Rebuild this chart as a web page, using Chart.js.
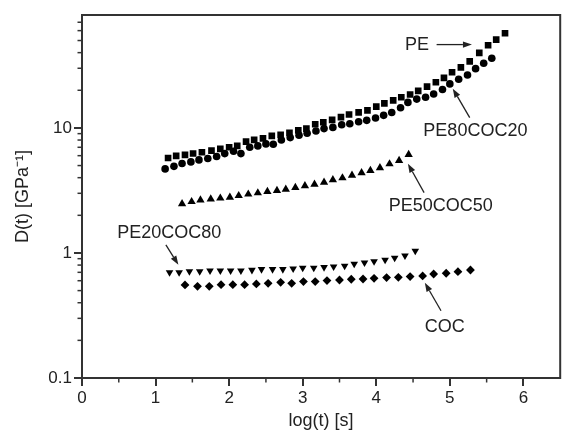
<!DOCTYPE html>
<html>
<head>
<meta charset="utf-8">
<script src="https://cdn.jsdelivr.net/npm/chart.js@4.4.1/dist/chart.umd.min.js"></script>
<style>
html,body{margin:0;padding:0;background:#fff;}
#wrap{width:565px;height:432px;position:relative;}
</style>
</head>
<body>
<div id="wrap"><canvas id="c" width="565" height="432"></canvas></div>
<script>
// ---- data ----
const peX = [1.17,1.28,1.40,1.51,1.63,1.76,1.88,2.00,2.11,2.23,2.34,2.46,2.58,2.70,2.82,2.94,3.05,3.17,3.28,3.40,3.52,3.63,3.76,3.88,4.00,4.11,4.23,4.34,4.46,4.57,4.69,4.81,4.92,5.03,5.15,5.27,5.40,5.52,5.63,5.75];
const peY = [5.75,5.97,6.08,6.24,6.39,6.59,6.79,7.00,7.18,7.78,8.02,8.26,8.63,8.79,9.12,9.57,9.88,10.7,11.1,11.6,12.2,12.8,13.3,13.8,14.8,15.7,16.6,17.6,18.5,19.8,21.4,23.2,25.1,27.9,30.5,34.1,39.8,45.8,50.9,57.2];

const pe80X = [1.13,1.25,1.36,1.48,1.59,1.71,1.83,1.94,2.06,2.16,2.28,2.39,2.50,2.60,2.71,2.83,2.95,3.06,3.18,3.29,3.41,3.53,3.64,3.76,3.87,3.99,4.10,4.21,4.33,4.43,4.55,4.67,4.78,4.90,5.00,5.12,5.24,5.35,5.46,5.57];
const pe80Y = [4.70,4.93,5.19,5.35,5.55,5.69,5.90,6.23,6.50,6.23,7.00,7.18,7.45,7.40,8.00,8.37,8.74,9.06,9.46,9.88,10.1,10.6,10.8,11.2,11.5,12.0,12.6,13.3,14.5,16.0,17.0,17.6,18.7,20.3,22.5,24.5,26.5,29.8,32.9,36.1];

const pe50X = [1.36,1.49,1.61,1.75,1.88,2.01,2.13,2.26,2.39,2.52,2.65,2.77,2.90,3.03,3.16,3.29,3.41,3.54,3.67,3.80,3.92,4.05,4.18,4.31,4.44];
const pe50Y = [2.47,2.57,2.65,2.70,2.74,2.79,2.87,2.95,3.02,3.10,3.15,3.23,3.33,3.44,3.54,3.67,3.84,3.98,4.18,4.37,4.56,4.79,5.15,5.48,6.12];

const pe20X = [1.19,1.32,1.46,1.60,1.74,1.88,2.02,2.16,2.31,2.44,2.59,2.73,2.87,3.00,3.15,3.29,3.42,3.57,3.70,3.84,3.97,4.12,4.25,4.39,4.53];
const pe20Y = [0.700,0.700,0.713,0.713,0.722,0.722,0.722,0.722,0.731,0.740,0.740,0.740,0.750,0.759,0.759,0.768,0.778,0.787,0.817,0.837,0.857,0.879,0.912,0.952,1.04];

const cocX = [1.40,1.57,1.73,1.89,2.05,2.21,2.37,2.53,2.70,2.85,3.01,3.17,3.33,3.50,3.66,3.82,3.97,4.14,4.30,4.46,4.63,4.78,4.95,5.11,5.28];
const cocY = [0.555,0.541,0.541,0.558,0.558,0.558,0.565,0.572,0.582,0.572,0.590,0.590,0.601,0.608,0.616,0.619,0.627,0.635,0.639,0.647,0.655,0.679,0.688,0.709,0.731];

const xMajorTicks = [0,1,2,3,4,5,6];
const xMinorTicks = [0.5,1.5,2.5,3.5,4.5,5.5];
const yMajorTicks = [0.1,1,10];
const yMinorTicks = [0.2,0.3,0.4,0.5,0.6,0.7,0.8,0.9,2,3,4,5,6,7,8,9,20,30,40,50,60,70];

const xTitle = 'log(t) [s]';
const yTitle = 'D(t) [GPa\u207B\u00B9]';

// annotation labels (data coordinates)
const labelText = ['PE','PE80COC20','PE50COC50','PE20COC80','COC'];
const labelX    = [4.39, 4.64, 4.17, 0.48, 4.66];
const labelY    = [46.4, 9.5, 2.39, 1.45, 0.257];
// arrows: from (x0,y0) to head (x1,y1)
const arrowX0 = [4.82, 5.27, 4.65, 1.14, 4.88];
const arrowY0 = [46.4, 12.1, 3.04, 1.16, 0.345];
const arrowX1 = [5.30, 5.04, 4.43, 1.31, 4.66];
const arrowY1 = [46.4, 20.6, 5.18, 0.805, 0.578];

const FONT = "'Liberation Sans', Arial, Helvetica, sans-serif";
const INK = '#222';

function pts(xs, ys){ return xs.map((x,i)=>({x:x, y:ys[i]})); }

const annotPlugin = {
  id: 'annot',
  afterDraw(chart){
    const ctx = chart.ctx, xs = chart.scales.x, ys = chart.scales.y, a = chart.chartArea;
    ctx.save();
    // minor ticks
    ctx.strokeStyle = '#333'; ctx.lineWidth = 1.5;
    xMinorTicks.forEach(v=>{ const px = xs.getPixelForValue(v); ctx.beginPath(); ctx.moveTo(px, a.bottom); ctx.lineTo(px, a.bottom+4.5); ctx.stroke(); });
    yMinorTicks.forEach(v=>{ const py = ys.getPixelForValue(v); ctx.beginPath(); ctx.moveTo(a.left, py); ctx.lineTo(a.left-4.5, py); ctx.stroke(); });
    // frame
    ctx.lineWidth = 2; ctx.strokeStyle = '#333';
    ctx.strokeRect(a.left, a.top, a.right-a.left, a.bottom-a.top);
    // labels
    ctx.fillStyle = INK; ctx.font = '18px ' + FONT; ctx.textBaseline = 'middle'; ctx.textAlign = 'left';
    labelText.forEach((t,i)=>{ ctx.fillText(t, xs.getPixelForValue(labelX[i]), ys.getPixelForValue(labelY[i])); });
    // arrows
    ctx.strokeStyle = INK; ctx.lineWidth = 1.3;
    arrowX0.forEach((v,i)=>{
      const x0 = xs.getPixelForValue(v), y0 = ys.getPixelForValue(arrowY0[i]);
      const x1 = xs.getPixelForValue(arrowX1[i]), y1 = ys.getPixelForValue(arrowY1[i]);
      const ang = Math.atan2(y1-y0, x1-x0), L = 9, W = 3.2;
      const bx = x1 - Math.cos(ang)*L, by = y1 - Math.sin(ang)*L;
      ctx.beginPath(); ctx.moveTo(x0,y0); ctx.lineTo(bx,by); ctx.stroke();
      ctx.beginPath(); ctx.moveTo(x1,y1);
      ctx.lineTo(bx + Math.sin(ang)*W, by - Math.cos(ang)*W);
      ctx.lineTo(bx - Math.sin(ang)*W, by + Math.cos(ang)*W);
      ctx.closePath(); ctx.fillStyle = INK; ctx.fill();
    });
    ctx.restore();
  }
};

const ds = (label, xs, ys, style, r, rot) => ({
  label, data: pts(xs, ys), showLine:false,
  pointStyle: style, pointRadius: r, pointHoverRadius: r, pointRotation: rot||0,
  backgroundColor: '#000', borderColor: '#000', borderWidth: 0
});

new Chart(document.getElementById('c'), {
  type: 'scatter',
  data: { datasets: [
    ds('PE', peX, peY, 'rect', 4.7),
    ds('PE80COC20', pe80X, pe80Y, 'circle', 3.8),
    ds('PE50COC50', pe50X, pe50Y, 'triangle', 4.8),
    ds('PE20COC80', pe20X, pe20Y, 'triangle', 4.4, 180),
    ds('COC', cocX, cocY, 'rectRot', 4.4)
  ]},
  options: {
    responsive:false, animation:false, devicePixelRatio:1,
    layout:{ padding:{ top:15, right:1, left:0, bottom:0 } },
    plugins:{ legend:{display:false}, tooltip:{enabled:false} },
    scales:{
      x:{
        type:'linear', min:0, max:6.5,
        afterBuildTicks: s => { s.ticks = xMajorTicks.map(v=>({value:v})); },
        afterFit: s => { s.height = 54; },
        grid:{ drawOnChartArea:false, drawTicks:true, tickLength:8, color:'#333', lineWidth:2 },
        border:{ display:false },
        ticks:{ color:INK, font:{family:FONT, size:17}, padding:2, maxRotation:0, callback:v=>String(v) },
        title:{ display:true, text:xTitle, color:INK, font:{family:FONT, size:18}, padding:{top:0,bottom:0} }
      },
      y:{
        type:'logarithmic', min:0.1, max:80,
        afterBuildTicks: s => { s.ticks = yMajorTicks.map(v=>({value:v})); },
        afterFit: s => { s.width = 82; },
        grid:{ drawOnChartArea:false, drawTicks:true, tickLength:8, color:'#333', lineWidth:2 },
        border:{ display:false },
        ticks:{ color:INK, font:{family:FONT, size:17}, padding:2, callback:v=>String(v) },
        title:{ display:true, text:yTitle, color:INK, font:{family:FONT, size:18}, padding:{top:12,bottom:0} }
      }
    }
  },
  plugins:[annotPlugin]
});
</script>
</body>
</html>
